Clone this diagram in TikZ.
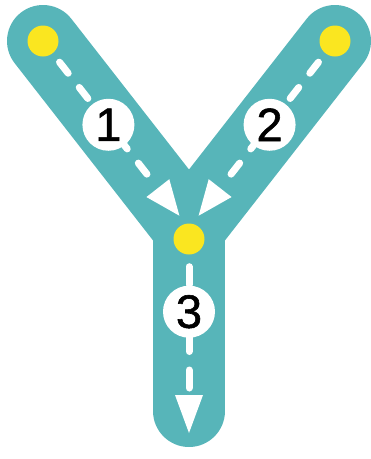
\documentclass[tikz,border=0pt]{standalone}
\usepackage{fontspec}
\setmainfont{Liberation Sans}
\newfontfamily\numfont[FakeBold=1.2]{Liberation Sans}
\usetikzlibrary{arrows.meta,backgrounds,calc}
\definecolor{ytealc}{HTML}{57B5B9}
\definecolor{yyellow}{HTML}{FAE620}
\begin{document}
\begin{tikzpicture}[x=1pt,y=-1pt,
  dot/.style={circle,fill=yyellow,minimum size=31pt,inner sep=0pt},
  numc/.style={circle,fill=white,minimum size=52pt,inner sep=0pt,font=\numfont\fontsize{47}{47}\selectfont},
  road/.style={line width=72pt,ytealc,line cap=round,line join=round},
  dashline/.style={white,line width=7pt,line cap=round,dash pattern=on 14pt off 18pt},
  tipA/.style={-{Triangle[length=35pt,width=29pt,line width=0pt]}},
  tipB/.style={-{Triangle[length=38pt,width=28pt,line width=0pt]}}
]
\useasboundingbox (0,0) rectangle (371,459);
\node[dot] (dotL) at (43,41) {};
\node[dot] (dotR) at (335,41) {};
\node[dot] (dotJ) at (189,239) {};
\coordinate (M) at (189,228);
\coordinate (B) at (189,411);
\coordinate (T3) at (189,433);
\node[numc] (n1) at ($(dotL)!0.448!(M)$) {1};
\node[numc] (n2) at ($(dotR)!0.448!(M)$) {2};
\node[numc] (n3) at (189,311.7) {3};
\begin{scope}[on background layer]
  \draw[road] (dotL.center) -- (M) -- (dotR.center);
  \draw[road] (M) -- (B);
  \draw[dashline,tipA,dash phase=5.1pt,shorten >=15.6pt] (dotL.center) -- (M);
  \draw[dashline,tipA,dash phase=5.1pt,shorten >=15.6pt] (dotR.center) -- (M);
  \draw[dashline,dash pattern=on 18pt off 18.5pt,dash phase=24.5pt] (dotJ) -- (n3);
  \draw[dashline,tipB,dash pattern=on 18pt off 18.5pt,dash phase=14.7pt] (n3.center) -- (T3);
\end{scope}
\end{tikzpicture}
\end{document}
